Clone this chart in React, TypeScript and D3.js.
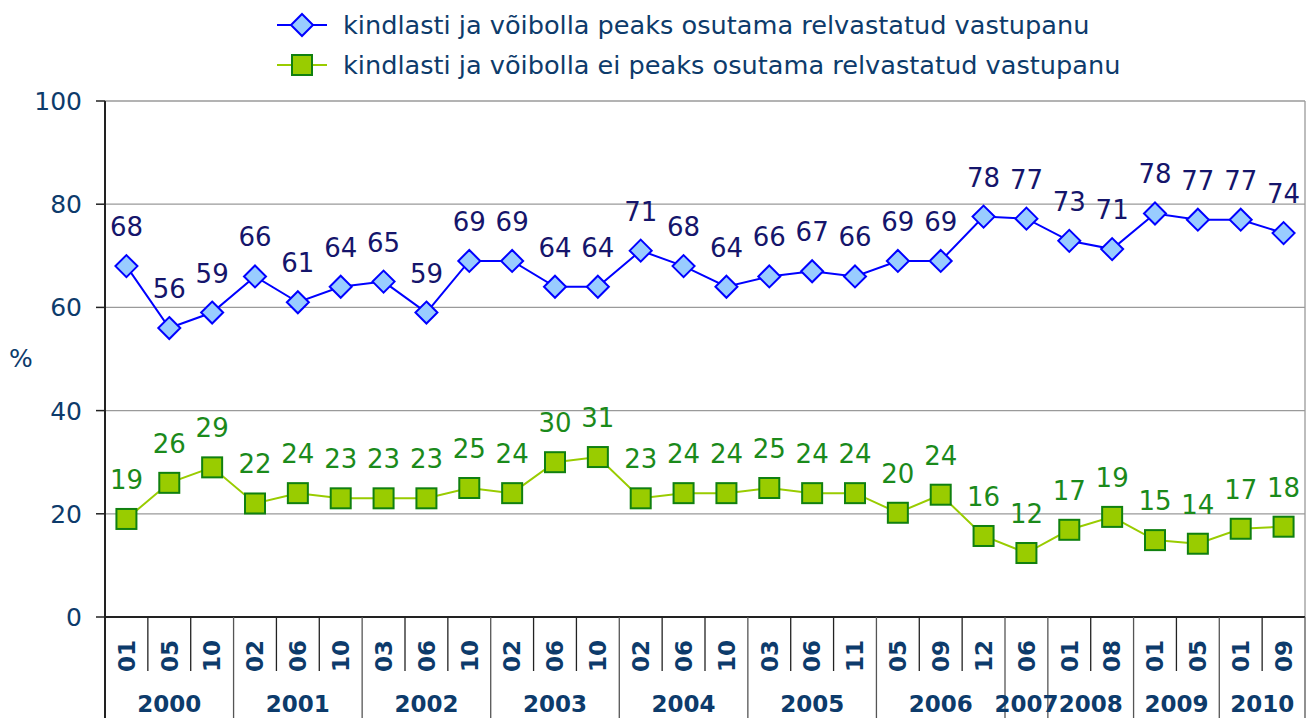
import React from "react";
import * as d3 from "d3";

const months = ["01","05","10","02","06","10","03","06","10","02","06","10","02","06","10","03","06","11","05","09","12","06","01","08","01","05","01","09"];
const years = ["2000","2000","2000","2001","2001","2001","2002","2002","2002","2003","2003","2003","2004","2004","2004","2005","2005","2005","2006","2006","2006","2007","2008","2008","2009","2009","2010","2010"];
const seriesA = [68,56,59,66,61,64,65,59,69,69,64,64,71,68,64,66,67,66,69,69,77.6,77.2,72.9,71.3,78.2,77,77,74.4];
const seriesB = [19,26,29,22,24,23,23,23,25,24,30,31,23,24,24,25,24,24,20.2,23.7,15.7,12.4,16.9,19.4,14.9,14.2,17.1,17.5];
const yTicks = [0,20,40,60,80,100];
const legendA = "kindlasti ja võibolla peaks osutama relvastatud vastupanu";
const legendB = "kindlasti ja võibolla ei peaks osutama relvastatud vastupanu";

const W = 1307, H = 718;
const L = 105, R = 1305, T = 101, B = 617;
const FONT = "Verdana, 'DejaVu Sans', sans-serif";
const AXIS_C = "#0d3b6b";

export default function App() {
  const idx = d3.range(months.length);
  const x = d3.scaleBand<number>().domain(idx).range([L, R]).padding(0);
  const y = d3.scaleLinear().domain([0, 100]).range([B, T]);
  const cx = (i: number) => (x(i) as number) + x.bandwidth() / 2;
  const line = d3.line<number>().x((_, i) => cx(i)).y(v => y(v));
  const fmt = d3.format(".0f");

  const groups: { year: string; start: number; end: number }[] = [];
  years.forEach((yr, i) => {
    const g = groups[groups.length - 1];
    if (g && g.year === yr) g.end = i;
    else groups.push({ year: yr, start: i, end: i });
  });
  const groupStarts = new Set(groups.map(g => g.start));

  const diamond = (px: number, py: number, r: number) =>
    `M${px},${py - r}L${px + r},${py}L${px},${py + r}L${px - r},${py}Z`;

  return (
    <svg width={W} height={H} style={{ position: "absolute", left: 0, top: 0, background: "#fff" }} fontFamily={FONT}>
      {yTicks.filter(t => t > 0).map(t => (
        <line key={t} x1={L} x2={R} y1={y(t)} y2={y(t)} stroke="#9a9a9a" strokeWidth={1.3} />
      ))}
      <line x1={R} x2={R} y1={T} y2={B} stroke="#9a9a9a" strokeWidth={1.3} />
      <line x1={L} x2={L} y1={T} y2={H} stroke="#222" strokeWidth={2} />
      {yTicks.map(t => (
        <g key={t}>
          <line x1={L - 9} x2={L} y1={y(t)} y2={y(t)} stroke="#222" strokeWidth={1.5} />
          <text x={82} y={y(t)} dy="0.36em" textAnchor="end" fontSize={25} fill={AXIS_C}>{t}</text>
        </g>
      ))}
      <text x={9} y={358} dy="0.36em" fontSize={25} fill={AXIS_C}>%</text>
      <line x1={L} x2={R} y1={B} y2={B} stroke="#222" strokeWidth={2} />
      {idx.slice(1).map(i => (
        <line key={i} x1={x(i)} x2={x(i)} y1={B} y2={groupStarts.has(i) ? H : 671}
          stroke={groupStarts.has(i) ? "#555" : "#222"} strokeWidth={1.3} />
      ))}
      <line x1={R} x2={R} y1={B} y2={H} stroke="#555" strokeWidth={1.3} />
      {idx.map(i => (
        <text key={i} transform={`translate(${cx(i)},${656}) rotate(-90)`} dy="0.36em" textAnchor="middle"
          fontSize={23} fontWeight="bold" fill={AXIS_C}>{months[i]}</text>
      ))}
      {groups.map(g => (
        <text key={g.year} x={((x(g.start) as number) + (x(g.end) as number) + x.bandwidth()) / 2} y={712}
          textAnchor="middle" fontSize={23} fontWeight="bold" fill={AXIS_C}>{g.year}</text>
      ))}
      <path d={line(seriesB) || ""} fill="none" stroke="#99cc00" strokeWidth={2} />
      {seriesB.map((v, i) => (
        <rect key={i} x={cx(i) - 10} y={y(v) - 10} width={20} height={20} fill="#99cc00" stroke="#108010" strokeWidth={2} />
      ))}
      {seriesB.map((v, i) => (
        <text key={i} x={cx(i)} y={y(v) - 30} textAnchor="middle" fontSize={26} fill="#1b8a1b">{fmt(v)}</text>
      ))}
      <path d={line(seriesA) || ""} fill="none" stroke="#0000ff" strokeWidth={2} />
      {seriesA.map((v, i) => (
        <path key={i} d={diamond(cx(i), y(v), 11)} fill="#99ccff" stroke="#0000ff" strokeWidth={2} />
      ))}
      {seriesA.map((v, i) => (
        <text key={i} x={cx(i)} y={y(v) - 30} textAnchor="middle" fontSize={26} fill="#15156b">{fmt(v)}</text>
      ))}
      <line x1={277} x2={327} y1={25} y2={25} stroke="#0000ff" strokeWidth={2} />
      <path d={diamond(302, 25, 11)} fill="#99ccff" stroke="#0000ff" strokeWidth={2} />
      <text x={343} y={25} dy="0.36em" fontSize={25.6} fill={AXIS_C}>{legendA}</text>
      <line x1={277} x2={327} y1={65} y2={65} stroke="#99cc00" strokeWidth={2} />
      <rect x={292} y={55} width={20} height={20} fill="#99cc00" stroke="#108010" strokeWidth={2} />
      <text x={343} y={65} dy="0.36em" fontSize={25.6} fill={AXIS_C}>{legendB}</text>
    </svg>
  );
}
